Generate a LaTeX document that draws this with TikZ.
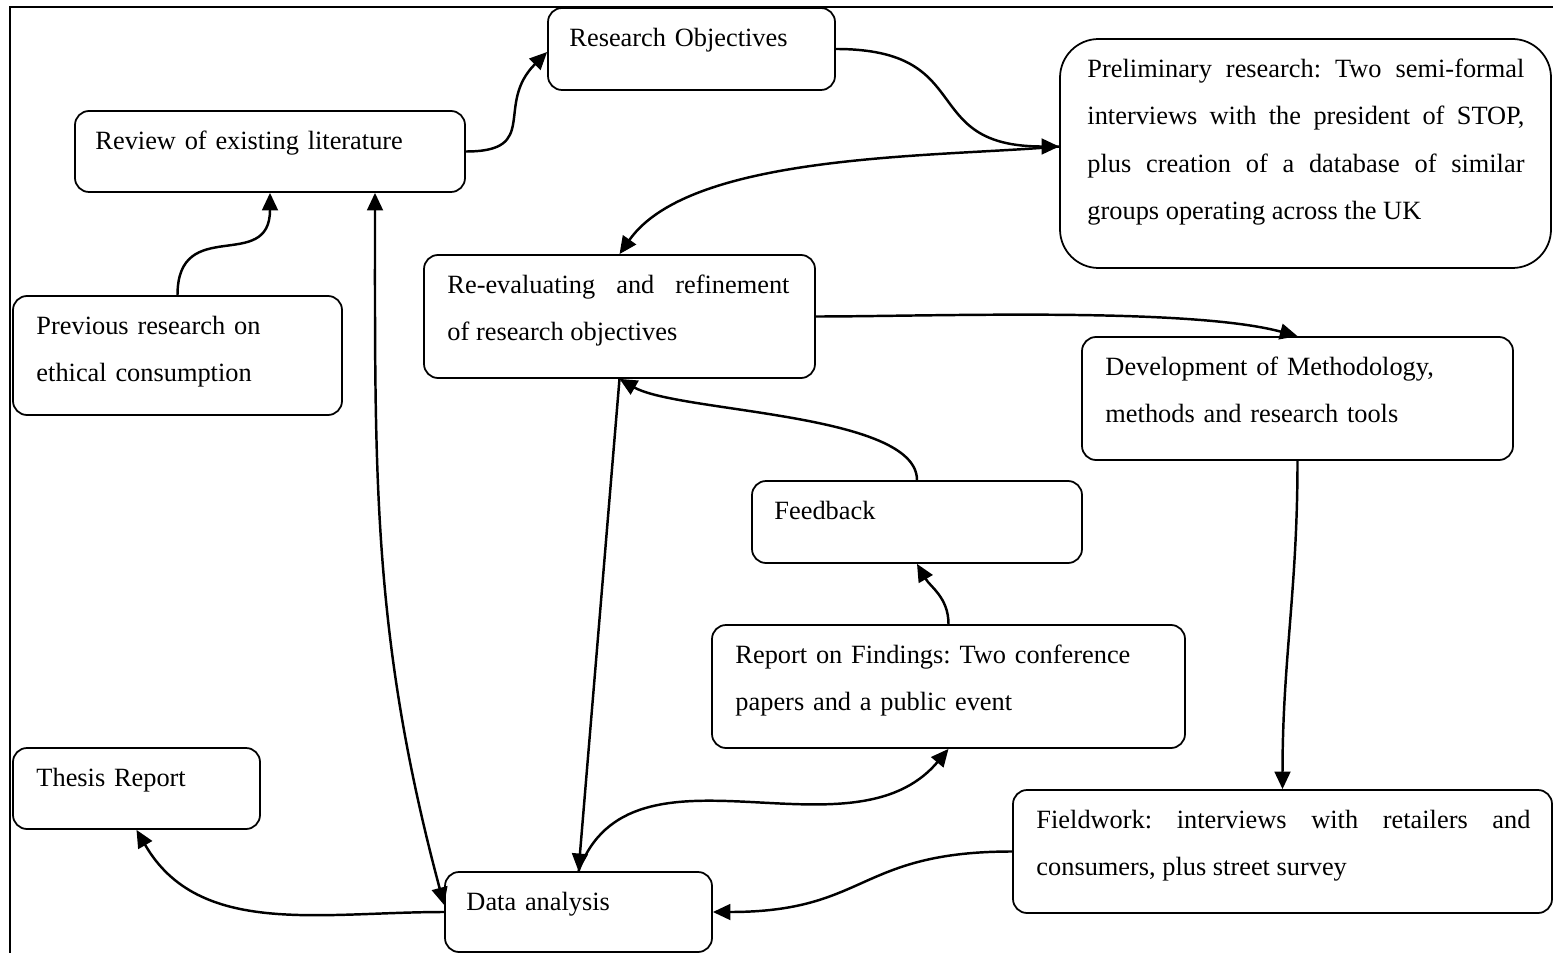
\documentclass[tikz,border=0pt]{standalone}
\usepackage{fontspec}
\setmainfont{Liberation Serif}
\usetikzlibrary{arrows.meta}
\frenchspacing

\begin{document}
\begin{tikzpicture}[
		font=\fontsize{15}{27}\selectfont,
		box/.style={rectangle, rounded corners=8pt, draw, line width=1pt, inner sep=0pt},
		txt/.style={anchor=base west, inner sep=0pt, align=left},
		jtxt/.style={anchor=base west, inner sep=0pt, align=justify},
		arr/.style={-{Triangle[length=10pt, width=9pt]}, line width=1.4pt},
		darr/.style={{Triangle[length=10pt, width=9pt]}-{Triangle[length=10pt, width=9pt]}, line width=1.4pt}
	]
		\useasboundingbox (0,0) rectangle (31.06,-19.06);
		% frame
		\draw[line width=1pt] (31.06,-0.14) -- (0.2,-0.14) -- (0.2,-19.06);
		% boxes
		\node[box, minimum width=5.74cm, minimum height=1.64cm] (RO) at (13.83,-0.98) {};
		\node[box, minimum width=7.80cm, minimum height=1.62cm] (REV) at (5.40,-3.03) {};
		\node[box, rounded corners=22pt, minimum width=9.82cm, minimum height=4.58cm] (PRE) at (26.11,-3.07) {};
		\node[box, minimum width=7.82cm, minimum height=2.46cm] (REEV) at (12.39,-6.33) {};
		\node[box, minimum width=6.58cm, minimum height=2.38cm] (PREV) at (3.55,-7.11) {};
		\node[box, minimum width=8.62cm, minimum height=2.46cm] (DEV) at (25.95,-7.97) {};
		\node[box, minimum width=6.60cm, minimum height=1.64cm] (FB) at (18.34,-10.44) {};
		\node[box, minimum width=9.46cm, minimum height=2.46cm] (REP) at (18.97,-13.73) {};
		\node[box, minimum width=4.94cm, minimum height=1.62cm] (TR) at (2.73,-15.77) {};
		\node[box, minimum width=5.34cm, minimum height=1.60cm] (DA) at (11.57,-18.24) {};
		\node[box, minimum width=10.78cm, minimum height=2.46cm] (FW) at (25.65,-17.03) {};
		% texts
		\node[txt, text width=5.2cm] (tRO) at ([shift={(0.44,-0.78)}]RO.north west) {Research Objectives};
		\node[txt, text width=7.2cm] (tREV) at ([shift={(0.42,-0.78)}]REV.north west) {Review of existing literature};
		\node[jtxt, text width=8.74cm] (tPRE) at ([shift={(0.56,-0.78)}]PRE.north west)
			{Preliminary research: Two semi-formal\linebreak interviews with the president of STOP,\linebreak plus creation of a database of similar\linebreak groups operating across the UK};
		\node[jtxt, text width=6.84cm] (tREEV) at ([shift={(0.48,-0.78)}]REEV.north west)
			{Re-evaluating and refinement\linebreak of research objectives};
		\node[txt, text width=6.0cm] (tPREV) at ([shift={(0.48,-0.78)}]PREV.north west) {Previous research on\\ethical consumption};
		\node[txt, text width=8.0cm] (tDEV) at ([shift={(0.48,-0.78)}]DEV.north west) {Development of Methodology,\\methods and research tools};
		\node[txt, text width=6.0cm] (tFB) at ([shift={(0.46,-0.78)}]FB.north west) {Feedback};
		\node[txt, text width=8.8cm] (tREP) at ([shift={(0.48,-0.78)}]REP.north west) {Report on Findings: Two conference\\papers and a public event};
		\node[txt, text width=4.4cm] (tTR) at ([shift={(0.48,-0.78)}]TR.north west) {Thesis Report};
		\node[txt, text width=4.8cm] (tDA) at ([shift={(0.44,-0.78)}]DA.north west) {Data analysis};
		\node[jtxt, text width=9.88cm] (tFW) at ([shift={(0.48,-0.78)}]FW.north west)
			{Fieldwork: interviews with retailers and\linebreak consumers, plus street survey};
		% connectors
		\draw[arr] (PREV.north) to[out=90, in=-90, looseness=1.5] (REV.south);
		\draw[darr] ([xshift=2.1cm]REV.south) to[out=-90, in=105] ([yshift=0.14cm]DA.west);
		\draw[arr] (REV.east) to[out=0, in=-135, looseness=1.5] ([yshift=-0.06cm]RO.west);
		\draw[arr] (RO.east) to[out=0, in=180, looseness=1.5] ([yshift=0.14cm]PRE.west);
		\draw[arr] ([yshift=0.14cm]PRE.west) to[out=185, in=55, looseness=0.7] (REEV.north);
		\draw[arr] (REEV.east) to[out=0, in=165, looseness=0.6] (DEV.north);
		\draw[arr] (DEV.south) to[out=-90, in=90] (FW.north);
		\draw[arr] (FW.west) to[out=180, in=0, looseness=1.3] (DA.east);
		\draw[arr] (REEV.south) -- (DA.north);
		\draw[arr] (DA.north) to[out=70, in=-130] (REP.south);
		\draw[arr] (FB.north) to[out=90, in=-30, looseness=0.55] (REEV.south);
		\draw[arr] (REP.north) to[out=90, in=-60] (FB.south);
		\draw[arr] (DA.west) to[out=180, in=-60] (TR.south);
	\end{tikzpicture}
\end{document}
